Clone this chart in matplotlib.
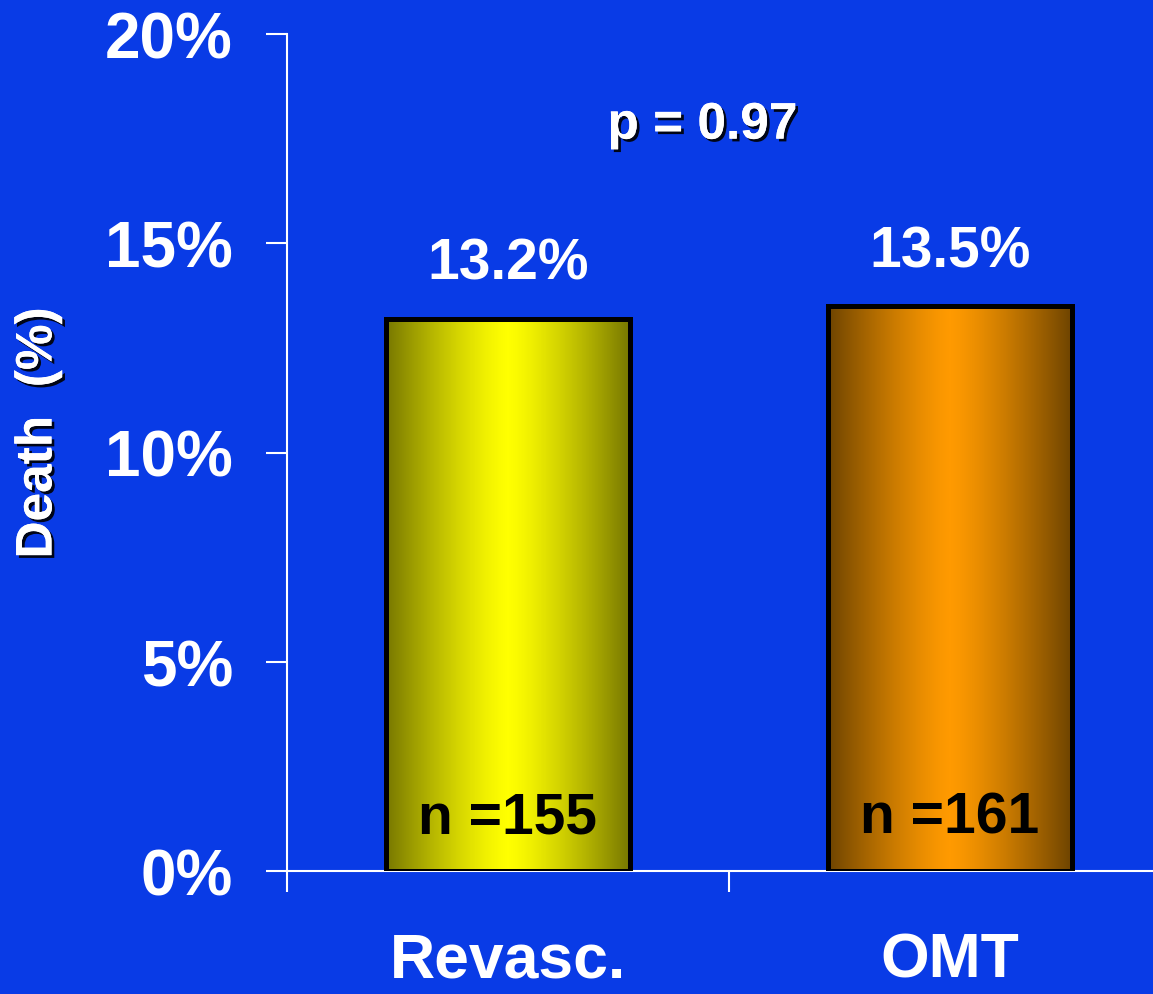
import numpy as np
import matplotlib.pyplot as plt
import matplotlib.patheffects as pe
from matplotlib.colors import LinearSegmentedColormap

plt.rcParams['font.family'] = ['Liberation Sans', 'DejaVu Sans']
plt.rcParams['font.weight'] = 'bold'

# Данні
groups = ['Revasc.', 'OMT']
death_pct = [13.2, 13.5]
n_patients = [155, 161]
p_value = 0.97
yticks = [0, 5, 10, 15, 20]

bg = '#093be6'
edge_cols = ['#787800', '#6e4400']
mid_cols = ['#ffff00', '#ff9a00']

shadow = [pe.withSimplePatchShadow(offset=(2, -2), shadow_rgbFace='black', alpha=0.9),
          pe.Normal()]

fig = plt.figure(figsize=(11.53, 9.95), dpi=100, facecolor=bg)
ax = fig.add_axes([287 / 1153, 123 / 995, 884 / 1153, 837 / 995], facecolor=bg)

x = np.arange(len(groups))
width = 0.55
bars = ax.bar(x, death_pct, width, facecolor='none', edgecolor='black',
              linewidth=3.6, zorder=3)

# Градієнт всередині стовпчиків
t = np.linspace(-1, 1, 256)
grad = (1 - np.abs(t) ** 1.3)[None, :]
for b, c0, c1 in zip(bars, edge_cols, mid_cols):
    cmap = LinearSegmentedColormap.from_list('g', [c0, c1])
    im = ax.imshow(grad, cmap=cmap, aspect='auto', zorder=2,
                   extent=[b.get_x(), b.get_x() + b.get_width(), 0, b.get_height()],
                   interpolation='bilinear')
    im.set_clip_path(b)

for xi, v, n in zip(x, death_pct, n_patients):
    ax.annotate(f'{v:.1f}%', (xi, v), xytext=(0, 20), textcoords='offset points',
                ha='center', va='bottom', color='white', fontsize=41,
                fontweight='bold', zorder=4)
    ax.annotate(f'n ={n}', (xi, 0), xytext=(0, 28), textcoords='offset points',
                ha='center', va='baseline', color='black', fontsize=41,
                fontweight='bold', zorder=4)

ax.text(0.44, 17.5, f'p = {p_value}', ha='center', va='baseline', color='white',
        fontsize=37, fontweight='bold', path_effects=shadow)

ax.set_xlim(-0.5, 1.5)
ax.set_ylim(0, 20)
ax.set_yticks(yticks)
ax.set_yticklabels([f'{v}%' for v in yticks], fontsize=46, fontweight='bold', color='white')
ax.set_xticks([-0.5, 0.5, 1.5])
ax.set_xticklabels([])
ax.set_xticks(x, minor=True)
ax.set_xticklabels(groups, minor=True, fontsize=45, fontweight='bold', color='white')
ax.tick_params(axis='y', length=15, width=1.5, color='white', pad=24)
ax.tick_params(axis='x', which='major', length=15, width=1.5, color='white')
ax.tick_params(axis='x', which='minor', length=0, pad=43)

for s in ['top', 'right']:
    ax.spines[s].set_visible(False)
for s in ['left', 'bottom']:
    ax.spines[s].set_color('white')
    ax.spines[s].set_linewidth(1.5)

fig.text(38 / 1153, 1 - 434 / 995, 'Death  (%)', rotation=90, ha='center', va='center',
         color='white', fontsize=37, fontweight='bold', path_effects=shadow)

fig.savefig('out.png', dpi=100, facecolor=bg)
